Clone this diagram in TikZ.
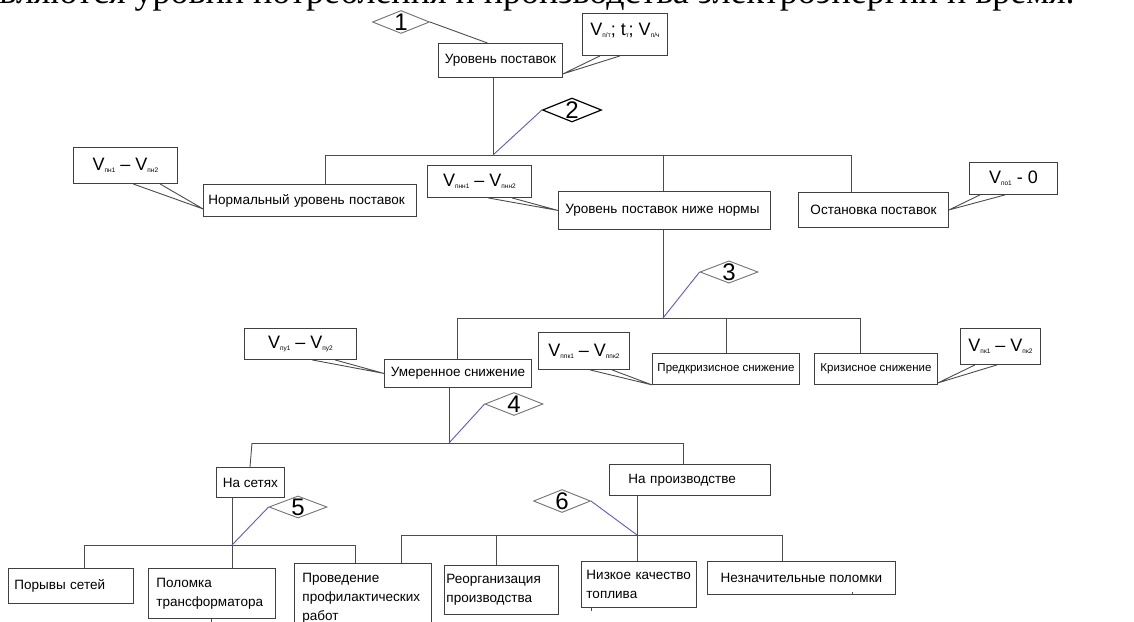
\documentclass[tikz,border=0pt]{standalone}
\usepackage{fontspec}
\setmainfont{Liberation Sans}
\newfontfamily\tnr{Liberation Serif}
\usetikzlibrary{shapes.geometric}

\definecolor{fiolet}{RGB}{105,80,215}
\newcommand{\nizh}[2]{#1\raisebox{-2pt}{\fontsize{6.5}{7}\selectfont #2}}

\tikzset{
  blok/.style={draw=black!75, line width=0.9pt, anchor=north west, inner sep=0pt, font=\fontsize{13.5}{19}\selectfont},
  vynoska/.style={draw=black!75, line width=0.9pt, anchor=north west, inner sep=0pt, font=\fontsize{18}{20}\selectfont},
  romb/.style={draw=black!55, line width=0.9pt, diamond, aspect=2.5, inner sep=0pt, minimum width=57pt, minimum height=23pt, font=\fontsize{24}{24}\selectfont},
  svyaz/.style={draw=black!70, line width=0.9pt},
  metka/.style={draw=fiolet, line width=0.9pt},
}

\begin{document}
\begin{tikzpicture}[x=1pt,y=-1pt]
\useasboundingbox (0,0) rectangle (1134,621);
\clip (0,0) rectangle (1134,621);

% cut line of the page text
\node[anchor=base east, inner sep=0pt, font=\tnr\fontsize{36}{36}\selectfont] (stroka) at (1075,3) {являются уровни потребления и производства электроэнергии и время.};

% boxes
\node[blok, minimum width=124pt, minimum height=34pt] (ur) at (438,43) {Уровень поставок};
\node[blok, align=left, text width=203pt, inner xsep=5pt, minimum height=32pt] (nu) at (203,184) {Нормальный уровень поставок};
\node[blok, align=left, text width=198pt, inner xsep=7pt, minimum height=38pt] (nn) at (558,191) {Уровень поставок ниже нормы};
\node[blok, minimum width=150pt, minimum height=35pt] (ost) at (798,192) {Остановка поставок};
\node[blok, minimum width=147pt, minimum height=28pt] (um) at (384,359) {Умеренное снижение};
\node[blok, minimum width=147pt, minimum height=31pt, font=\fontsize{11.5}{14}\selectfont] (pk) at (652,353) {Предкризисное снижение};
\node[blok, minimum width=123pt, minimum height=31pt, font=\fontsize{11.5}{14}\selectfont] (kr) at (814,353) {Кризисное снижение};
\node[blok, minimum width=68pt, minimum height=30pt] (ns) at (216,467) {На сетях};
\node[blok, align=left, text width=123pt, inner xsep=19pt, minimum height=31pt] (np) at (609,464) {На производстве};
\node[blok, align=left, text width=113pt, inner xsep=6pt, minimum height=35pt] (por) at (8,568) {Порывы сетей};
\node[blok, align=left, text width=111pt, inner xsep=8pt, minimum height=50pt] (pol) at (148,568) {Поломка\\трансформатора};
\node[blok, align=left, text width=121pt, inner xsep=8pt, minimum height=69pt] (prov) at (294,563) {Проведение\\профилактических\\работ};
\node[blok, align=left, text width=110pt, inner xsep=2pt, minimum height=49pt] (reo) at (444,565) {Реорганизация\\производства};
\node[blok, align=left, text width=105pt, inner xsep=5pt, minimum height=46pt] (niz) at (581,561) {Низкое качество\\топлива};
\node[blok, minimum width=188pt, minimum height=33pt] (nezn) at (707,561) {Незначительные поломки};

% callouts
\node[vynoska, minimum width=85pt, minimum height=42pt, text depth=10pt] (v0) at (582,13) {\nizh{V}{п/т}; \nizh{t}{т}; \nizh{V}{п/ч}};
\node[vynoska, minimum width=104pt, minimum height=36pt] (v1) at (73,147) {\nizh{V}{пн1} – \nizh{V}{пн2}};
\node[vynoska, minimum width=104pt, minimum height=32pt] (v2) at (427,165) {\nizh{V}{пнн1} – \nizh{V}{пнн2}};
\node[vynoska, minimum width=88pt, minimum height=32pt] (v3) at (969,162) {\nizh{V}{по1} - 0};
\node[vynoska, minimum width=112pt, minimum height=31pt] (v4) at (244,328) {\nizh{V}{пу1} – \nizh{V}{пу2}};
\node[vynoska, minimum width=91pt, minimum height=37pt] (v5) at (538,332) {\nizh{V}{ппк1} – \nizh{V}{ппк2}};
\node[vynoska, minimum width=80pt, minimum height=36pt] (v6) at (960,328) {\nizh{V}{пк1} – \nizh{V}{пк2}};

\draw[svyaz] ([xshift=18pt]v0.south west) -- ([yshift=4pt]ur.south east) -- ([xshift=38pt]v0.south west);
\draw[svyaz] ([xshift=60pt]v1.south west) -- ([yshift=8pt]nu.south west) -- ([xshift=87pt]v1.south west);
\draw[svyaz] ([xshift=61pt]v2.south west) -- (nn.west) -- ([xshift=85pt]v2.south west);
\draw[svyaz] ([xshift=11pt]v3.south west) -- (ost.east) -- ([xshift=36pt]v3.south west);
\draw[svyaz] ([xshift=68pt]v4.south west) -- (um.west) -- ([xshift=91pt]v4.south west);
\draw[svyaz] ([xshift=52pt]v5.south west) -- (pk.south west) -- ([xshift=74pt]v5.south west);
\draw[svyaz] ([xshift=15pt]v6.south west) -- ([yshift=2pt]kr.south east) -- ([xshift=37pt]v6.south west);

% diamonds
\node[romb] (d1) at (401,22) {1};
\node[romb, draw=black, line width=1.2pt, minimum width=59pt, minimum height=24pt] (d2) at (572,110) {2};
\node[romb, minimum width=58pt, minimum height=22pt] (d3) at (729,272) {3};
\node[romb, minimum width=58pt] (d4) at (514,404) {4};
\node[romb, minimum width=58pt, minimum height=22pt] (d5) at (298,507) {5};
\node[romb] (d6) at (562,501) {6};

% junctions
\coordinate (j1) at (493,155);
\coordinate (j2) at (663,318);
\coordinate (j3) at (449,443);
\coordinate (j4) at (232,545);
\coordinate (j5) at (637,535);

% tree lines
\draw[svyaz] (d1.east) -- ([xshift=-13pt]ur.north);
\draw[svyaz] (ur.south -| j1) -- (j1);
\draw[svyaz] (325,155) -- (851,155);
\draw[svyaz] (325,155) -- (nu.north -| 325,0);
\draw[svyaz] (663,155) -- (nn.north -| 663,0);
\draw[svyaz] (851,155) -- (ost.north -| 851,0);

\draw[svyaz] (nn.south -| j2) -- (j2);
\draw[svyaz] (457,318) -- (860,318);
\draw[svyaz] (457,318) -- (um.north -| 457,0);
\draw[svyaz] (726,318) -- (pk.north -| 726,0);
\draw[svyaz] (860,318) -- (kr.north -| 860,0);

\draw[svyaz] (um.south -| j3) -- (j3);
\draw[svyaz] (252,443) -- (683,443);
\draw[svyaz] (252,443) -- (ns.north -| 250,0);
\draw[svyaz] (683,443) -- (np.north -| 683,0);

\draw[svyaz] (ns.south -| j4) -- (j4);
\draw[svyaz] (84,545) -- (355,545);
\draw[svyaz] (84,545) -- (por.north -| 84,0);
\draw[svyaz] (232,545) -- (pol.north -| 232,0);
\draw[svyaz] (355,545) -- (prov.north -| 355,0);

\draw[svyaz] (np.south -| j5) -- (j5);
\draw[svyaz] (401,535) -- (782,535);
\draw[svyaz] (401,535) -- (prov.north -| 401,0);
\draw[svyaz] (496,535) -- (reo.north -| 496,0);
\draw[svyaz] (j5) -- (niz.north -| j5);
\draw[svyaz] (782,535) -- (nezn.north -| 782,0);

% small stubs
\draw[svyaz] (pol.south -| 211,0) -- ++(0,4);
\draw[svyaz] (niz.south -| 591,0) -- ++(0,3);
\draw[svyaz] (nezn.south -| 852,0) -- ++(0,-3);

% violet marks
\draw[metka] (j1) -- (d2.west);
\draw[metka] (j2) -- (d3.west);
\draw[metka] (j3) -- (d4.west);
\draw[metka] (j4) -- (d5.west);
\draw[metka] (d6.east) -- (j5);
\end{tikzpicture}
\end{document}
